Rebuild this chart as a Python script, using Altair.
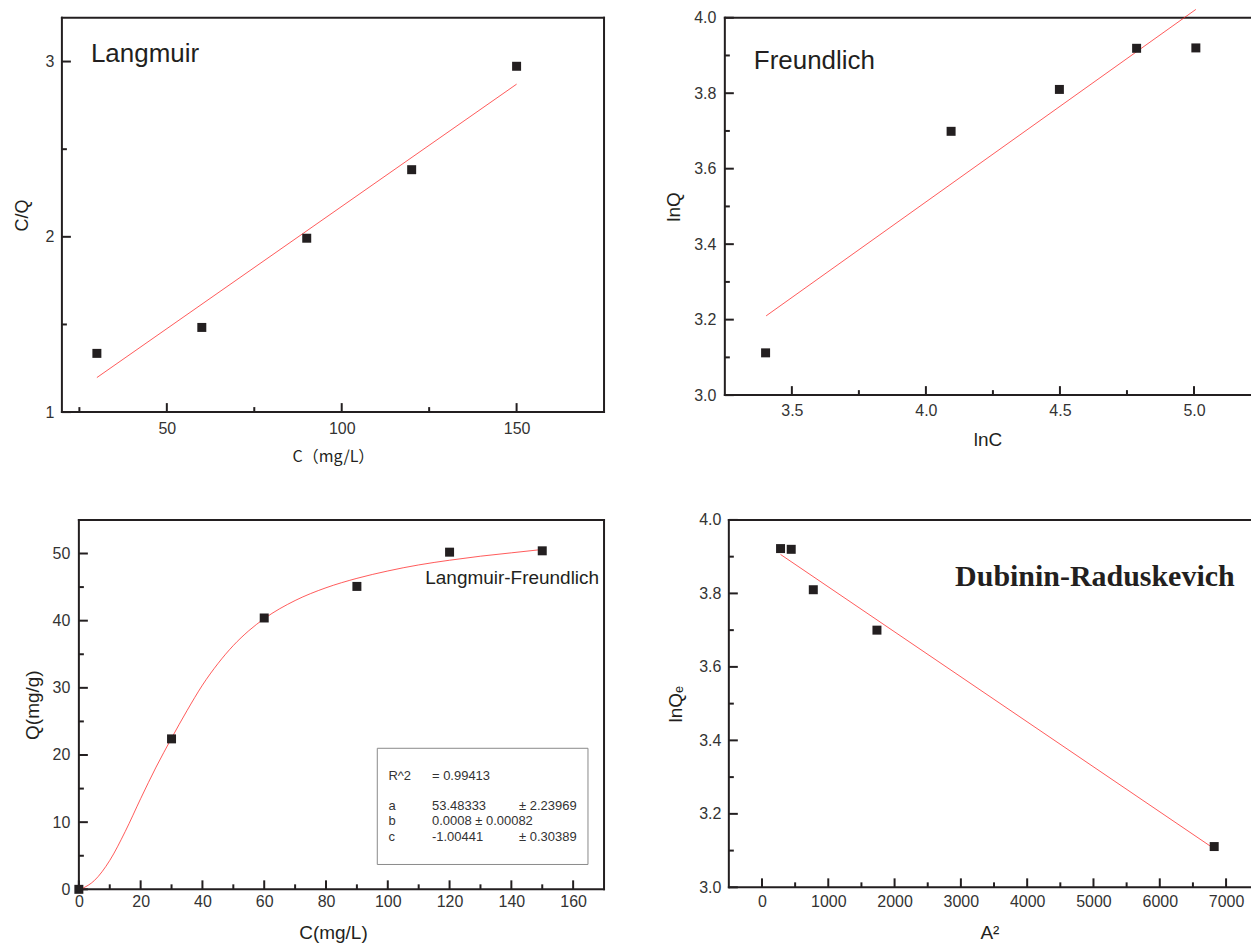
import altair as alt
import pandas as pd

# ---------------- data ----------------
# Langmuir: C vs C/Q
lang_c = [30, 60, 90, 120, 150]
lang_cq = [1.335, 1.483, 1.992, 2.383, 2.973]
lang_fit_c = [30, 150]
lang_fit_cq = [1.197, 2.871]

# Freundlich: lnC vs lnQ
fr_lnc = [3.402, 4.094, 4.498, 4.786, 5.007]
fr_lnq = [3.112, 3.699, 3.810, 3.919, 3.920]
fr_fit_lnc = [3.404, 5.007]
fr_fit_lnq = [3.210, 4.022]

# Langmuir-Freundlich: C vs Q
lf_c = [0, 30, 60, 90, 120, 150]
lf_q = [0.0, 22.4, 40.4, 45.1, 50.2, 50.4]
lf_curve_c = [1, 5, 10, 15, 20, 25, 30, 35, 40, 45, 50, 55, 60, 70, 80, 90,
              100, 110, 120, 130, 140, 150]
lf_curve_q = [0.1, 1.3, 4.3, 8.6, 13.5, 18.2, 22.5, 26.6, 30.4, 33.6, 36.3,
              38.5, 40.3, 43.0, 44.9, 46.3, 47.4, 48.3, 49.0, 49.6, 50.1, 50.6]
fit_rows_label = ["R^2", "a", "b", "c"]
fit_rows_value = ["= 0.99413", "53.48333", "0.0008 \u00b1 0.00082", "-1.00441"]
fit_rows_err = ["", "\u00b1 2.23969", "", "\u00b1 0.30389"]

# Dubinin-Raduskevich: A^2 vs lnQe
dr_a2 = [280, 441, 774, 1734, 6821]
dr_lnq = [3.922, 3.920, 3.810, 3.700, 3.111]
dr_fit_a2 = [280, 6821]
dr_fit_lnq = [3.906, 3.105]

# tick values
p1_x_major = [50, 100, 150]
p1_x_minor = [25, 75, 125]
p1_y_major = [1, 2, 3]
p1_y_minor = [1.5, 2.5]
p2_x_major = [3.5, 4.0, 4.5, 5.0]
p2_x_minor = [3.75, 4.25, 4.75]
p2_y_major = [3.0, 3.2, 3.4, 3.6, 3.8, 4.0]
p2_y_minor = [3.1, 3.3, 3.5, 3.7, 3.9]
p3_x_major = [0, 20, 40, 60, 80, 100, 120, 140, 160]
p3_x_minor = [10, 30, 50, 70, 90, 110, 130, 150]
p3_y_major = [0, 10, 20, 30, 40, 50]
p3_y_minor = [5, 15, 25, 35, 45]
p4_x_major = [0, 1000, 2000, 3000, 4000, 5000, 6000, 7000]
p4_x_minor = [500, 1500, 2500, 3500, 4500, 5500, 6500]
p4_y_major = [3.0, 3.2, 3.4, 3.6, 3.8, 4.0]
p4_y_minor = [3.1, 3.3, 3.5, 3.7, 3.9]

INK = "#231f20"
RED = "#ff1a1a"
LABEL = "#333333"
SANS = "Liberation Sans, Arial, DejaVu Sans"
SERIF = "Liberation Serif, Times New Roman"
CJK = "Noto Sans CJK SC"


def panel(W, H, xdom, ydom, xfmt, yfmt, xmaj, xmin, ymaj, ymin,
          xtitle, ytitle, xpad, xtpad, ypad, ytpad, pts_x, pts_y, fit_x, fit_y,
          right_border, extras, interp="linear", xtitle_font=SANS, xtitle_size=19,
          ytitle_size=19, x0=0):
    xs = alt.Scale(domain=xdom, nice=False, zero=False)
    ys = alt.Scale(domain=ydom, nice=False, zero=False)
    xax = alt.Axis(values=xmaj, format=xfmt, ticks=False, grid=False, domain=False,
                   labelPadding=xpad, titlePadding=xtpad, labelFlush=False,
                   titleFont=xtitle_font, titleFontSize=xtitle_size)
    yax = alt.Axis(values=ymaj, format=yfmt, ticks=False, grid=False, domain=False,
                   labelPadding=ypad, titlePadding=ytpad, labelFlush=False,
                   titleFontSize=ytitle_size, offset=-x0)
    X = alt.X("x:Q", scale=xs, axis=xax, title=xtitle)
    Y = alt.Y("y:Q", scale=ys, axis=yax, title=ytitle)

    one = pd.DataFrame({"k": [0]})
    layers = []
    # inward ticks
    for vals, L in ((xmaj, 9), (xmin, 5)):
        layers.append(alt.Chart(pd.DataFrame({"x": vals})).mark_rule(
            color=INK, strokeWidth=2).encode(x=X, y=alt.value(H), y2=alt.value(H - L)))
    for vals, L in ((ymaj, 9), (ymin, 5)):
        layers.append(alt.Chart(pd.DataFrame({"y": vals})).mark_rule(
            color=INK, strokeWidth=2).encode(y=Y, x=alt.value(x0), x2=alt.value(x0 + L)))
    # frame
    frame = alt.Chart(one).mark_rule(color=INK, strokeWidth=2, strokeCap="square")
    layers.append(frame.encode(x=alt.value(x0), y=alt.value(0), y2=alt.value(H)))
    layers.append(frame.encode(x=alt.value(x0), x2=alt.value(W), y=alt.value(0)))
    layers.append(frame.encode(x=alt.value(x0), x2=alt.value(W), y=alt.value(H)))
    if right_border:
        layers.append(frame.encode(x=alt.value(W), y=alt.value(0), y2=alt.value(H)))
    # fit and data
    layers.append(alt.Chart(pd.DataFrame({"x": fit_x, "y": fit_y})).mark_line(
        color=RED, strokeWidth=0.8, opacity=0.9, interpolate=interp).encode(x=X, y=Y))
    layers.append(alt.Chart(pd.DataFrame({"x": pts_x, "y": pts_y})).mark_point(
        shape="square", filled=True, size=81, color=INK, opacity=1).encode(x=X, y=Y))
    for ex in extras:
        layers.append(ex(X, Y))
    return alt.layer(*layers).properties(
        width=W, height=H, view=alt.ViewBackground(stroke="transparent"))


def label(x, y, t, size, font=SANS, align="left", weight="normal"):
    def f(X, Y):
        return alt.Chart(pd.DataFrame({"x": [x], "y": [y], "t": [t]})).mark_text(
            font=font, fontSize=size, align=align, baseline="alphabetic",
            fontWeight=weight, color=INK).encode(x=X, y=Y, text="t:N")
    return f


def fit_box(X, Y):
    box = alt.Chart(pd.DataFrame({"x": [96.6], "x2": [164.8], "y": [21.0], "y2": [3.7]})
                    ).mark_rect(fillOpacity=0, stroke="#8a8a8a", strokeWidth=1).encode(
        x=X, x2="x2:Q", y=Y, y2="y2:Q")
    row_y = [16.85, 12.42, 10.20, 7.84]
    rows = pd.DataFrame({
        "x": [100.2] * 4 + [114.3] * 4 + [142.5] * 4,
        "y": row_y * 3,
        "t": fit_rows_label + fit_rows_value + fit_rows_err,
    })
    txt = alt.Chart(rows).mark_text(font=SANS, fontSize=13, align="left",
                                    baseline="middle", color=LABEL).encode(
        x=X, y=Y, text="t:N")
    return alt.layer(box, txt)


p1 = panel(543, 395, [20, 175], [1, 3.25], "d", "d", p1_x_major, p1_x_minor,
           p1_y_major, p1_y_minor, "C\uff08mg/L\uff09", "C/Q", 8, 12, 8, 14,
           lang_c, lang_cq, lang_fit_c, lang_fit_cq, True,
           [label(28.3, 3.0, "Langmuir", 26)], xtitle_font=CJK, xtitle_size=16,
           ytitle_size=18)

p2 = panel(526, 378, [3.25, 5.209], [3.0, 4.0], ".1f", ".1f", p2_x_major, p2_x_minor,
           p2_y_major, p2_y_minor, "lnC", "lnQ", 7, 12, 9, 10,
           fr_lnc, fr_lnq, fr_fit_lnc, fr_fit_lnq, False,
           [label(3.358, 3.865, "Freundlich", 26)])

# panel 3 view starts at the same x as panel 1; its frame starts 17 px further right
p3 = panel(543, 370, [-5.49, 170], [0, 55], "d", "d", p3_x_major, p3_x_minor,
           p3_y_major, p3_y_minor, "C(mg/L)", "Q(mg/g)", 4, 14, 9, 10,
           lf_c, lf_q, lf_curve_c, lf_curve_q, True,
           [label(168.4, 45.4, "Langmuir-Freundlich", 19, align="right"), fit_box],
           interp="monotone", x0=17)

p4 = panel(522, 368, [-500, 7361], [3.0, 4.0], "d", ".1f", p4_x_major, p4_x_minor,
           p4_y_major, p4_y_minor, "A\u00b2", "lnQ\u2091", 6, 14, 8, 13,
           dr_a2, dr_lnq, dr_fit_a2, dr_fit_lnq, False,
           [label(2913, 3.819, "Dubinin-Raduskevich", 30, font=SERIF, weight="bold")])

row1 = alt.hconcat(p1, p2, spacing=121, bounds="flush")
row2 = alt.hconcat(p3, p4, spacing=125, bounds="flush")

chart = alt.vconcat(row1, row2, spacing=46).properties(
    padding={"left": 12, "top": 6, "right": 0, "bottom": 0},
    background="white",
).configure_axis(
    labelFont=SANS, labelFontSize=16, labelColor=LABEL,
    titleFont=SANS, titleFontSize=19, titleFontWeight="normal", titleColor=INK,
)

chart.save("out.html", embed_options={"renderer": "svg", "actions": False})
